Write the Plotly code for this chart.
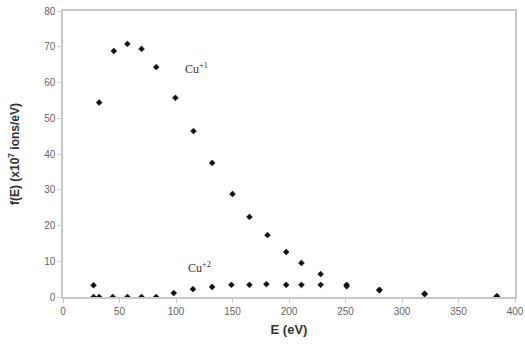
import plotly.graph_objects as go

# Cu+1 series
e_cu1 = [27, 32, 45, 57, 69.5, 82.5, 99.5, 115.5, 132, 150, 165, 181, 197.5, 211, 228, 251, 280, 320, 384]
f_cu1 = [3.3, 54.4, 68.8, 70.8, 69.4, 64.3, 55.7, 46.4, 37.5, 28.8, 22.4, 17.3, 12.6, 9.5, 6.4, 3.4, 2.0, 0.9, 0.2]

# Cu+2 series
e_cu2 = [27, 32, 44, 57, 69.5, 82.5, 98, 115, 132, 149, 165, 180, 197.5, 211, 228, 251, 280, 320, 384]
f_cu2 = [0.0, 0.0, 0.0, 0.0, 0.0, 0.0, 1.1, 2.2, 2.8, 3.4, 3.4, 3.6, 3.4, 3.4, 3.4, 3.0, 1.9, 0.8, 0.1]

x_ticks = [0, 50, 100, 150, 200, 250, 300, 350, 400]
y_ticks = [0, 10, 20, 30, 40, 50, 60, 70, 80]

marker = dict(symbol="diamond", size=4.5, color="#111", line=dict(width=0.6, color="#111"))

fig = go.Figure()
fig.add_trace(go.Scatter(x=e_cu1, y=f_cu1, mode="markers", marker=marker, name="Cu+1"))
fig.add_trace(go.Scatter(x=e_cu2, y=f_cu2, mode="markers", marker=marker, name="Cu+2"))

fig.add_annotation(x=106, y=64, text="Cu<sup>+1</sup>", showarrow=False, xanchor="left",
                   font=dict(family="Liberation Serif", size=12, color="#333"))
fig.add_annotation(x=109, y=8.3, text="Cu<sup>+2</sup>", showarrow=False, xanchor="left",
                   font=dict(family="Liberation Serif", size=12, color="#333"))

fig.update_layout(
    width=525, height=358,
    margin=dict(l=63, r=10, t=11, b=61),
    paper_bgcolor="white", plot_bgcolor="white",
    showlegend=False,
    font=dict(family="Liberation Sans", size=10, color="#666"),
)
fig.update_xaxes(
    range=[0, 400], tickvals=x_ticks, ticktext=[str(v) for v in x_ticks],
    showgrid=False, zeroline=False, showline=True, linecolor="#c8c8c8", linewidth=1.5,
    mirror=True, ticks="outside", ticklen=4, tickcolor="#c8c8c8", automargin=False,
    title=dict(text="<b>E (eV)</b>", font=dict(family="Liberation Sans", size=13, color="#333"), standoff=9),
)
fig.update_yaxes(
    range=[0, 80], tickvals=y_ticks, ticktext=[str(v) for v in y_ticks],
    showgrid=False, zeroline=False, showline=True, linecolor="#c8c8c8", linewidth=1.5,
    mirror=True, ticks="outside", ticklen=4, tickcolor="#c8c8c8", automargin=False,
    title=dict(text="<b>f(E) (x10<sup>7</sup> ions/eV)</b>", font=dict(family="Liberation Sans", size=12, color="#333"), standoff=22),
)

fig.write_html("out.html", config={"displayModeBar": False},
               post_script="document.body.style.margin='0';document.body.style.overflow='hidden';")
